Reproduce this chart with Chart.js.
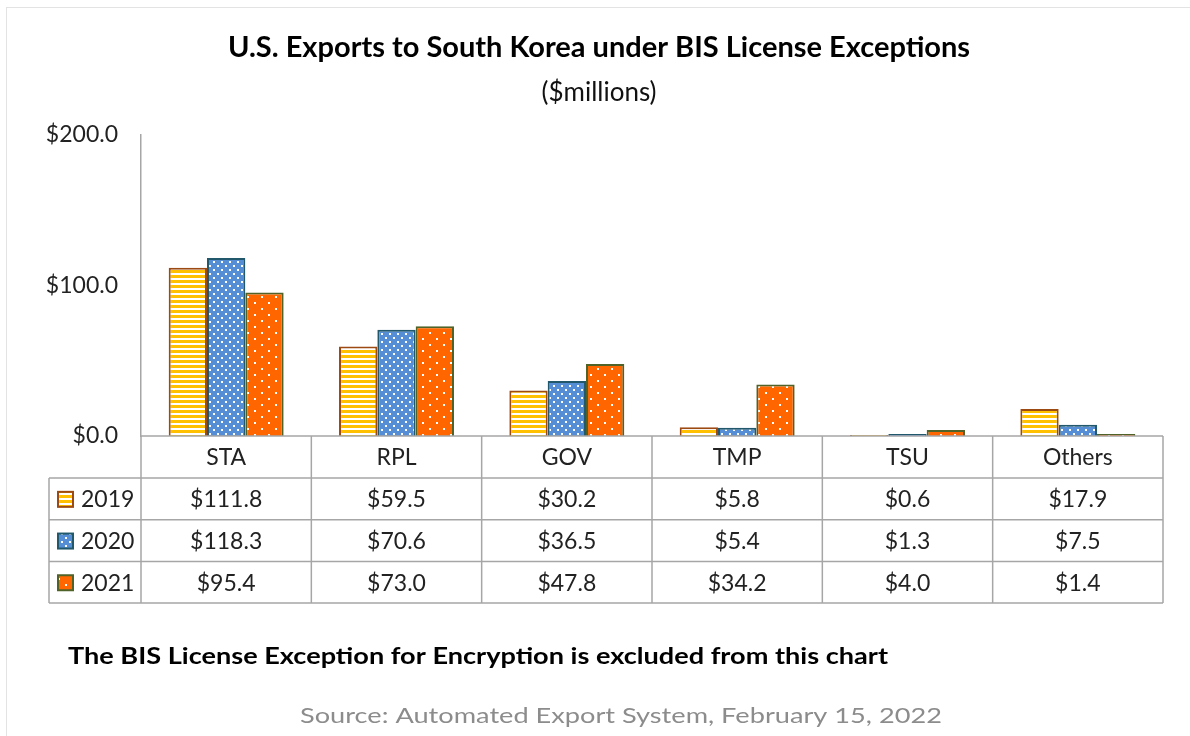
<!DOCTYPE html>
<html>
<head>
<meta charset="utf-8">
<script src="https://cdn.jsdelivr.net/npm/chart.js@4.4.1/dist/chart.umd.min.js"></script>
<style>
  html, body { margin: 0; padding: 0; background: #fff; }
  #wrap { width: 1190px; height: 736px; }
</style>
</head>
<body>
<div id="wrap"><canvas id="myChart"></canvas></div>
<script>
let categories = ['STA', 'RPL', 'GOV', 'TMP', 'TSU', 'Others'];
let years = ['2019', '2020', '2021'];
let values2019 = [111.8, 59.5, 30.2, 5.8, 0.6, 17.9];
let values2020 = [118.3, 70.6, 36.5, 5.4, 1.3, 7.5];
let values2021 = [95.4, 73.0, 47.8, 34.2, 4.0, 1.4];
let yTicks = [0, 100, 200];

let chartTitle = 'U.S. Exports to South Korea under BIS License Exceptions';
let chartSubtitle = '($millions)';
let footnote = 'The BIS License Exception for Encryption is excluded from this chart';
let sourceNote = 'Source: Automated Export System, February 15, 2022';

let ctx = document.getElementById('myChart').getContext('2d');
let fontFamily = 'Lato, "Open Sans", sans-serif';

// fill patterns like the excel ones
function makePattern(w, h, draw) {
  let c = document.createElement('canvas');
  c.width = w;
  c.height = h;
  draw(c.getContext('2d'));
  return ctx.createPattern(c, 'repeat');
}

let stripes = makePattern(5, 5, (p) => {
  p.fillStyle = '#FFC000';
  p.fillRect(0, 0, 5, 5);
  p.fillStyle = '#ffffff';
  p.fillRect(0, 3, 5, 2);
});
let blueDots = makePattern(8, 8, (p) => {
  p.fillStyle = '#558ED5';
  p.fillRect(0, 0, 8, 8);
  p.fillStyle = '#ffffff';
  p.fillRect(1, 1, 2, 2);
  p.fillRect(5, 5, 2, 2);
});
let orangeDots = makePattern(14, 12, (p) => {
  p.fillStyle = '#FF6600';
  p.fillRect(0, 0, 14, 12);
  p.fillStyle = '#ffffff';
  p.fillRect(2, 2, 2, 2);
  p.fillRect(9, 8, 2, 2);
});

let fills = [stripes, blueDots, orangeDots];
let borders = ['#9C4A12', '#22586B', '#4F6228'];
let seriesValues = [values2019, values2020, values2021];

function money(v) {
  return '$' + v.toFixed(1);
}

// excel text comes out wider than Lato, so stretch a line to the width it has there
function stretchText(c, text, left, y, width) {
  let w = c.measureText(text).width;
  c.save();
  c.translate(left, y);
  c.scale(width / w, 1);
  c.textAlign = 'left';
  c.fillText(text, 0, 0);
  c.restore();
}

const frame = {
  id: 'frame',
  beforeDraw(chart) {
    const c = chart.ctx;
    c.save();
    c.fillStyle = '#fff';
    c.fillRect(0, 0, chart.width, chart.height);
    c.strokeStyle = '#e3e3e3';
    c.lineWidth = 1;
    c.strokeRect(6.5, 7.5, chart.width + 20, chart.height + 20);
    c.restore();
  }
};

const dataTable = {
  id: 'dataTable',
  afterDraw(chart) {
    const c = chart.ctx;
    const area = chart.chartArea;
    const x = chart.scales.x;
    const n = categories.length;
    const cw = (area.right - area.left) / n;
    const top = area.bottom;
    const headH = 42;
    const rowH = 41.7;
    const bottom = top + headH + rowH * years.length;
    const leftCol = 49;

    c.save();
    c.strokeStyle = '#a6a6a6';
    c.lineWidth = 1.5;
    c.beginPath();
    // horizontal lines
    c.moveTo(area.left, top);
    c.lineTo(area.right, top);
    for (let r = 0; r <= years.length; r++) {
      let yy = top + headH + r * rowH;
      c.moveTo(leftCol, yy);
      c.lineTo(area.right, yy);
    }
    // vertical lines
    for (let i = 0; i <= n; i++) {
      let xx = area.left + i * cw;
      c.moveTo(xx, top);
      c.lineTo(xx, bottom);
    }
    c.moveTo(leftCol, top + headH);
    c.lineTo(leftCol, bottom);
    c.stroke();

    c.fillStyle = '#222';
    c.font = '23px ' + fontFamily;
    c.textAlign = 'center';
    c.textBaseline = 'middle';
    categories.forEach((cat, i) => {
      c.fillText(cat, x.getPixelForValue(i), top + headH / 2 + 1);
    });

    years.forEach((yr, r) => {
      let cy = top + headH + r * rowH + rowH / 2 + 1;
      // legend key
      c.fillStyle = fills[r];
      c.fillRect(58, cy - 8, 15, 15);
      c.strokeStyle = borders[r];
      c.lineWidth = 2;
      c.strokeRect(58, cy - 8, 15, 15);
      c.fillStyle = '#222';
      c.textAlign = 'left';
      c.fillText(yr, 81, cy);
      c.textAlign = 'center';
      seriesValues[r].forEach((v, i) => {
        c.fillText(money(v), x.getPixelForValue(i), cy);
      });
    });

    // notes under the table
    c.fillStyle = '#000';
    c.font = 'bold 22px ' + fontFamily;
    stretchText(c, footnote, 68, 657, 820);
    c.fillStyle = '#8c8c8c';
    c.font = '22px ' + fontFamily;
    stretchText(c, sourceNote, 300, 716, 642);
    c.restore();
  }
};

let datasets = years.map((yr, i) => ({
  label: yr,
  data: seriesValues[i],
  backgroundColor: fills[i],
  borderColor: borders[i],
  borderWidth: 2,
  borderSkipped: 'bottom',
  categoryPercentage: 0.675,
  barPercentage: 1.0
}));

let myChart = new Chart(ctx, {
  type: 'bar',
  data: {
    labels: categories,
    datasets: datasets
  },
  options: {
    responsive: true,
    maintainAspectRatio: false,
    animation: false,
    layout: {
      padding: { left: 35, right: 27, top: 0, bottom: 300 }
    },
    plugins: {
      legend: { display: false },
      tooltip: { enabled: false },
      title: {
        display: true,
        text: chartTitle,
        color: '#000',
        font: { family: fontFamily, size: 29, weight: 'bold' },
        padding: { top: 30.6, bottom: 3.2 }
      },
      subtitle: {
        display: true,
        text: chartSubtitle,
        color: '#111',
        font: { family: fontFamily, size: 26 },
        padding: { top: 8, bottom: 27.2 }
      }
    },
    scales: {
      x: {
        display: false
      },
      y: {
        min: 0,
        max: 200,
        afterFit: (scale) => { scale.width = 106; },
        afterBuildTicks: (scale) => {
          scale.ticks = yTicks.map((v) => ({ value: v }));
        },
        grid: { display: false, drawTicks: false },
        border: { display: true, color: '#a6a6a6', width: 1.5 },
        ticks: {
          color: '#222',
          padding: 23,
          font: { family: fontFamily, size: 23 },
          callback: (value) => money(value)
        }
      }
    }
  },
  plugins: [frame, dataTable]
});
</script>
</body>
</html>
